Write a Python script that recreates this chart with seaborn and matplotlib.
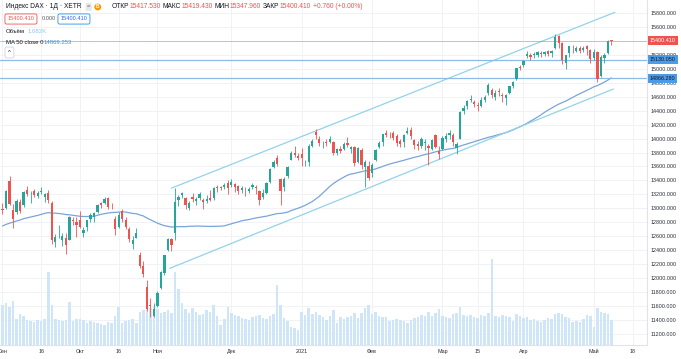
import numpy as np
import pandas as pd
import matplotlib
matplotlib.use("Agg")
import matplotlib.pyplot as plt
import seaborn as sns
from matplotlib.transforms import blended_transform_factory

sns.set_theme(style="white")
plt.rcParams["font.family"] = ["Liberation Sans", "DejaVu Sans"]

# ---------------- data ----------------
holidays = ["2020-12-24", "2020-12-25", "2020-12-31", "2021-01-01", "2021-04-02", "2021-04-05"]
dates = pd.bdate_range("2020-09-01", "2021-05-10")
dates = dates[~dates.isin(pd.to_datetime(holidays))]

opens = [
    12993, 13004, 13390, 12970, 12950, 13085, 13050, 13260, 13200, 13250, 13175, 13240, 13170, 13220, 13070, 12520, 12642, 12540, 12580, 12550, 12840, 12810,
    12830, 12650, 12730, 12850, 12880, 12950, 13070, 13080, 13150, 13030, 12850, 12740, 12960, 12830, 12700, 12490, 12580, 12330, 12170, 11880, 11610, 11460,
    11600, 11860, 12070, 12400, 12560, 12650, 13120, 13190, 13150, 13000, 13170, 13100, 13150, 13120, 13100, 13150, 13150, 13300, 13300, 13300, 13360,
    13330, 13350, 13320, 13260, 13280, 13250, 13300, 13310, 13250, 13160, 13220, 13380, 13590, 13720, 13420, 13300, 13460, 13700, 13800, 13750,
    13780, 13650, 13670, 13900, 14100, 14000, 13920, 13950, 13950, 13950, 13800, 13850, 13850, 13930, 13850, 13880, 13660, 13840, 13590, 13600,
    13500, 13700, 13880, 13950, 14080, 14070, 14080, 14030, 13960, 13950, 14080, 14130, 13980, 13920, 13900, 13930, 13900, 13850, 14050, 13820,
    13850, 14000, 14050, 14050, 13860, 14000, 14400, 14460, 14560, 14530, 14480, 14470, 14560, 14650, 14700, 14600, 14680, 14630, 14580, 14650, 14760, 14850, 15020,
    15050, 15180, 15200, 15200, 15200, 15220, 15210, 15250, 15230, 15300, 15470, 15370, 15080, 15220, 15290, 15260, 15300, 15270, 15330, 15270,
    15150, 15240, 14900, 15150, 15230, 15417.53,
]
highs = [
    13083, 13260, 13460, 13063, 13133, 13140, 13253, 13323, 13247, 13280, 13254, 13309, 13215, 13265, 13100, 12634, 12758, 12640, 12640, 12895, 12870, 12877,
    12966, 12740, 12840, 12930, 12946, 13060, 13090, 13170, 13165, 13080, 12893, 12942, 12990, 12870, 12740, 12600, 12720, 12380, 12250, 11980, 11720, 11650,
    11810, 12100, 12330, 12580, 12570, 13297, 13190, 13240, 13170, 13100, 13215, 13170, 13230, 13150, 13190, 13270, 13310, 13330, 13320, 13360, 13400,
    13420, 13370, 13340, 13320, 13300, 13310, 13370, 13340, 13260, 13280, 13380, 13580, 13690, 13770, 13430, 13450, 13600, 13820, 13900, 13800,
    13860, 13690, 13920, 14000, 14131, 14030, 13970, 13990, 14030, 13960, 13870, 13900, 13950, 14020, 13900, 13900, 13880, 13860, 13700, 13680,
    13650, 13850, 13960, 14070, 14130, 14100, 14110, 14070, 14000, 14060, 14170, 14170, 14000, 13960, 14020, 14000, 13920, 14000, 14060, 13900,
    14030, 14080, 14120, 14080, 13950, 14400, 14480, 14560, 14620, 14560, 14520, 14590, 14620, 14800, 14720, 14700, 14720, 14650, 14640, 14760, 14830, 15010, 15050,
    15130, 15250, 15230, 15240, 15260, 15250, 15260, 15270, 15270, 15500, 15480, 15380, 15200, 15330, 15340, 15320, 15330, 15330, 15340, 15290,
    15280, 15250, 15200, 15220, 15410, 15419.43,
]
lows = [
    12925, 12990, 13050, 12712, 12925, 12935, 13020, 13176, 13070, 13156, 13152, 13210, 13097, 13080, 12489, 12449, 12578, 12464, 12339, 12540, 12760, 12591,
    12720, 12592, 12680, 12810, 12800, 12930, 13000, 13060, 12990, 12985, 12620, 12720, 12810, 12700, 12525, 12420, 12570, 12150, 12020, 11530, 11450, 11450,
    11580, 11850, 12050, 12390, 12390, 12540, 13030, 13150, 12990, 12970, 13090, 13050, 13120, 12990, 13070, 13110, 13120, 13240, 13260, 13280, 13200,
    13300, 13240, 13200, 13220, 13180, 13220, 13280, 13210, 13050, 13140, 13200, 13370, 13580, 13600, 13050, 13250, 13440, 13700, 13740, 13700,
    13600, 13600, 13600, 13880, 14000, 13900, 13870, 13900, 13930, 13760, 13760, 13800, 13830, 13880, 13800, 13600, 13650, 13570, 13310, 13400,
    13450, 13680, 13860, 13900, 14020, 14010, 13980, 13900, 13880, 13880, 14060, 14000, 13850, 13830, 13860, 13840, 13620, 13830, 13860, 13710,
    13840, 13950, 14000, 13900, 13780, 13990, 14350, 14420, 14520, 14450, 14400, 14450, 14530, 14620, 14580, 14550, 14610, 14530, 14480, 14640, 14730, 14840, 14980,
    15020, 15150, 15130, 15150, 15170, 15170, 15180, 15180, 15170, 15290, 15300, 15070, 15000, 15170, 15220, 15240, 15220, 15240, 15200, 15090,
    15130, 14816, 14880, 15080, 15210, 15347.96,
]
closes = [
    12974, 13243, 13057, 12842, 13100, 12968, 13237, 13209, 13202, 13194, 13218, 13255, 13208, 13116, 12542, 12594, 12645, 12606, 12469, 12871, 12825, 12761,
    12731, 12689, 12828, 12906, 12928, 13042, 13051, 13138, 13018, 13028, 12703, 12909, 12854, 12736, 12558, 12543, 12646, 12178, 12064, 11561, 11598, 11556,
    11789, 12089, 12325, 12568, 12480, 13096, 13163, 13216, 13053, 13077, 13139, 13133, 13202, 13086, 13137, 13127, 13293, 13290, 13286, 13336, 13291,
    13382, 13313, 13252, 13299, 13271, 13278, 13340, 13295, 13114, 13223, 13363, 13565, 13667, 13630, 13246, 13418, 13587, 13790, 13761, 13719,
    13726, 13651, 13892, 13968, 14050, 13937, 13925, 13940, 13989, 13788, 13848, 13815, 13922, 13906, 13873, 13643, 13870, 13620, 13665, 13433,
    13622, 13836, 13933, 14060, 14057, 14060, 14011, 13933, 13921, 14050, 14109, 14034, 13909, 13887, 13993, 13950, 13865, 13976, 13879, 13786,
    14012, 14039, 14080, 13950, 13920, 14380, 14437, 14541, 14569, 14502, 14461, 14557, 14596, 14775, 14621, 14657, 14662, 14610, 14621, 14749, 14818, 15009, 15008,
    15107, 15212, 15176, 15203, 15234, 15215, 15234, 15209, 15255, 15460, 15368, 15129, 15195, 15320, 15280, 15296, 15249, 15292, 15290, 15136,
    15236, 14856, 15171, 15197, 15399.65, 15400.41,
]
# closes of the 49 sessions before the first bar (for the 50-day moving average)
closes_before = [
    12094, 12177, 12089, 12232, 12311, 12260, 12608, 12528, 12733, 12616, 12495, 12489, 12633, 12799, 12697, 12931, 12874,
    12919, 13046, 13171, 13104, 13103, 12838, 12839, 12835, 12822, 12379, 12313, 12647, 12601, 12660, 12592, 12674, 12687,
    12947, 13058, 12993, 12901, 12920, 12881, 12977, 12830, 12765, 13066, 13062, 13191, 13096, 12945, 12945,
]
volumes = [
    80, 84, 76, 88, 52, 62, 58, 50, 48, 46, 50, 48, 52, 146, 80, 52, 50, 48, 50, 86, 48, 52,
    52, 50, 44, 48, 46, 44, 42, 40, 46, 44, 58, 76, 44, 48, 50, 52, 44, 66, 70, 78, 74, 78,
    72, 64, 66, 70, 64, 146, 112, 84, 72, 64, 74, 66, 60, 62, 70, 66, 80, 58, 40, 52, 76,
    64, 60, 58, 54, 52, 50, 56, 58, 60, 54, 52, 58, 62, 120, 80, 54, 48, 36, 34, 30,
    66, 60, 74, 62, 66, 60, 56, 50, 58, 70, 44, 56, 52, 56, 58, 64, 54, 64, 74, 80,
    62, 66, 58, 56, 56, 48, 50, 52, 50, 48, 44, 50, 54, 56, 60, 58, 66, 58, 64, 72,
    58, 56, 54, 62, 64, 76, 60, 58, 60, 56, 54, 60, 58, 64, 172, 58, 56, 60, 58, 56, 48, 62, 58,
    54, 56, 50, 52, 48, 46, 50, 54, 52, 62, 64, 62, 56, 54, 46, 48, 46, 52, 60, 58,
    36, 74, 66, 64, 62, 50,
]
# channel (trend) lines: (bar index, price)
upper_line = [(48, 13290), (174, 15810)]
lower_line = [(47.5, 12140), (173.5, 14710)]
hlines_prices = [15130.05, 14866.28]
last_price = 15400.41
ma_last = "14869.253"

date_ticks = ["2020-09-01", "2020-09-16", "2020-10-01", "2020-10-16", "2020-11-02", "2020-12-01",
              "2021-01-04", "2021-02-01", "2021-03-01", "2021-03-15", "2021-04-01", "2021-05-03", "2021-05-18"]
date_labels = ["Сен", "16", "Окт", "16", "Ноя", "Дек", "2021", "Фев", "Мар", "15", "Апр", "Май", "18"]
price_ticks = list(range(11200, 15801, 200))

# ---------------- derived ----------------
n = len(closes)
idx = np.arange(n)
O = np.array(opens, float); Hh = np.array(highs, float)
L = np.array(lows, float); C = np.array(closes, float)
ma50 = pd.Series(closes_before + closes).rolling(50).mean().values[len(closes_before):]

def date_pos(d):
    d = pd.Timestamp(d)
    if d in dates:
        return float(dates.get_loc(d))
    extra = len(pd.bdate_range(dates[-1], d)) - 1
    return float(n - 1 + extra)

tick_pos = [date_pos(d) for d in date_ticks]

# ---------------- figure ----------------
W, H = 681, 359
fig = plt.figure(figsize=(W / 100, H / 100), dpi=100)
fig.patch.set_facecolor("white")
rect = [0, 14 / H, 647 / W, 1 - 14 / H]
ax_vol = fig.add_axes(rect, zorder=0)
ax = fig.add_axes(rect, zorder=1)
ax.patch.set_alpha(0)

XLIM = (-2.5 / 3.52, (647 - 2.5) / 3.52)
YLIM = (11042, 15986)
VMAX = 690

# volume
sns.barplot(x=idx, y=volumes, native_scale=True, color="#cfe5f8", saturation=1,
            width=0.72, errorbar=None, linewidth=0, ax=ax_vol)
ax_vol.set_xlim(*XLIM)
ax_vol.set_ylim(0, VMAX)
# grid lines (under everything)
ax_vol.hlines(price_ticks, XLIM[0], XLIM[1], transform=ax.transData, colors="#f0f2f6", lw=0.7, zorder=0)
for tp in tick_pos:
    ax_vol.axvline(tp, color="#f0f2f6", lw=0.7, zorder=0)
ax_vol.set_xlim(*XLIM)
ax_vol.set_ylim(0, VMAX)
ax_vol.set_xticks([]); ax_vol.set_yticks([])
ax_vol.set_xlabel(""); ax_vol.set_ylabel("")
for s in ax_vol.spines.values():
    s.set_visible(False)

# candles
up = C >= O
cols = np.where(up, "#26a69a", "#ef5350")
ax.vlines(idx, L, Hh, colors=cols, lw=0.6, zorder=3)
ax.bar(idx, np.maximum(np.abs(C - O), 6), bottom=np.minimum(O, C), width=0.64,
       color=cols, linewidth=0, zorder=4)

# moving average
sns.lineplot(x=idx, y=ma50, ax=ax, color="#7aa5d8", linewidth=0.9, zorder=2)

# channel lines
for line in (upper_line, lower_line):
    xs, ys = zip(*line)
    ax.plot(xs, ys, color="#93d3e8", lw=0.9, zorder=2)

# horizontal lines
for p in hlines_prices:
    ax.axhline(p, color="#8dbbe8", lw=0.9, zorder=2)
ax.axhline(last_price, color="#ef5350", lw=0.5, alpha=0.6, zorder=2)

ax.set_xlim(*XLIM)
ax.set_ylim(*YLIM)
ax.set_xlabel(""); ax.set_ylabel("")

# axes / ticks
ax.yaxis.tick_right()
ax.set_yticks(price_ticks)
ax.set_yticklabels([f"{p:.3f}" for p in price_ticks])
ax.set_xticks(tick_pos)
ax.set_xticklabels(date_labels)
ax.tick_params(axis="y", length=0, pad=2.4, labelsize=3.9, labelcolor="#2a2e39")
ax.tick_params(axis="x", length=0, pad=2.6, labelsize=3.9, labelcolor="#2a2e39")
for k in ("top", "left"):
    ax.spines[k].set_visible(False)
for k in ("right", "bottom"):
    ax.spines[k].set_color("#e0e3eb")
    ax.spines[k].set_linewidth(0.8)

# price label boxes
btr = blended_transform_factory(ax.transAxes, ax.transData)
ax.text(1.0045, last_price, f"{last_price:.3f}", transform=btr, ha="left", va="center",
        fontsize=3.9, color="white", clip_on=False, zorder=10,
        bbox=dict(boxstyle="square,pad=0.35", fc="#ef5350", ec="none"))
for p in hlines_prices:
    ax.text(1.0045, p, f"{p:.3f}", transform=btr, ha="left", va="center",
            fontsize=3.9, color="#0d1b2a", clip_on=False, zorder=10,
            bbox=dict(boxstyle="square,pad=0.35", fc="#4b9be6", ec="none"))

# ---------------- header ----------------
def fx(x):
    return x / W

def fy(y):
    return 1 - y / H

HS = 4.8
fig.text(fx(6), fy(7), "Индекс DAX · 1Д · XETR", fontsize=HS, color="#131722", va="center", ha="left")
fig.text(fx(87), fy(7), "=", fontsize=4.2, color="#555", va="center", ha="left",
         bbox=dict(boxstyle="round,pad=0.25", fc="#e6e8ee", ec="none"))
fig.text(fx(96), fy(7), "B", fontsize=3.4, color="white", va="center", ha="left", weight="bold",
         bbox=dict(boxstyle="circle,pad=0.2", fc="#ff9800", ec="none"))

pieces = [("ОТКР", "#131722", 0), ("15417.530", "#ef5350", 0), ("МАКС", "#131722", 1.6),
          ("15419.430", "#ef5350", 0), ("МИН", "#131722", 1.6), ("15347.960", "#ef5350", 0),
          ("ЗАКР", "#131722", 1.6), ("15400.410", "#ef5350", 0), ("+0.760 (+0.00%)", "#ef5350", 1.6)]
prev = fig.text(fx(112), fy(7), pieces[0][0], fontsize=HS, color=pieces[0][1], va="center", ha="left")
for s, c, gap in pieces[1:]:
    prev = ax.annotate(s, xy=(1, 0.5), xycoords=prev, xytext=(gap, 0), textcoords="offset points",
                       fontsize=HS, color=c, va="center", ha="left", annotation_clip=False)

fig.text(fx(7.5), fy(19), "15400.410", fontsize=4.1, color="#ef5350", va="center", ha="left",
         bbox=dict(boxstyle="round,pad=0.45,rounding_size=0.3", fc="white", ec="#ef5350", lw=0.6))
fig.text(fx(42), fy(19), "0.000", fontsize=4.1, color="#555a66", va="center", ha="left")
fig.text(fx(60.5), fy(19), "15400.410", fontsize=4.1, color="#2962ff", va="center", ha="left",
         bbox=dict(boxstyle="round,pad=0.45,rounding_size=0.3", fc="white", ec="#2196f3", lw=0.6))

fig.text(fx(6), fy(31.5), "Объём", fontsize=4.3, color="#131722", va="center", ha="left")
fig.text(fx(28), fy(31.5), "1.082K", fontsize=4.3, color="#90c4f0", va="center", ha="left")
fig.text(fx(6), fy(42), "MA 50 close 0", fontsize=4.3, color="#131722", va="center", ha="left")
fig.text(fx(44), fy(42), ma_last, fontsize=4.3, color="#4a8fd8", va="center", ha="left")
fig.text(fx(8), fy(52.5), "^", fontsize=4.3, color="#131722", va="center", ha="left",
         bbox=dict(boxstyle="round,pad=0.5,rounding_size=0.3", fc="white", ec="#d1d4dc", lw=0.6))

fig.savefig("out.png", dpi=100, facecolor="white")
